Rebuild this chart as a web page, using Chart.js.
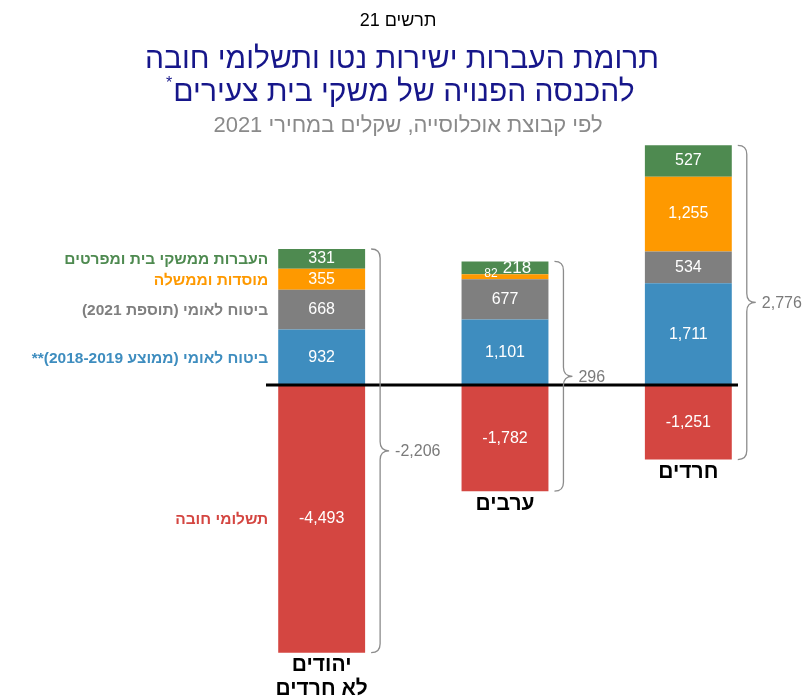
<!DOCTYPE html>
<html lang="he" dir="rtl">
  <head>
    <meta charset="UTF-8" />
    <title>תרשים 21</title>
    <script src="https://cdn.jsdelivr.net/npm/chart.js"></script>
    <style>
      body {
        margin: 0;
        background: #fff;
      }
      canvas {
        display: block;
      }
    </style>
  </head>
  <body>
    <canvas id="chart" width="803" height="696"></canvas>

    <script>
      // קבוצות אוכלוסייה
      const groups = [["יהודים", "לא חרדים"], ["ערבים"], ["חרדים"]];

      // ערכים בשקלים, מחירי 2021
      const compulsoryPayments = [-4493, -1782, -1251];
      const nationalInsuranceAvg = [932, 1101, 1711];
      const nationalInsurance2021 = [668, 677, 534];
      const institutionsGov = [355, 82, 1255];
      const householdTransfers = [331, 218, 527];
      const netTotals = [-2206, 296, 2776];

      const seriesNames = [
        "תשלומי חובה",
        "ביטוח לאומי (ממוצע 2018-2019)**",
        "ביטוח לאומי (תוספת 2021)",
        "מוסדות וממשלה",
        "העברות ממשקי בית ומפרטים",
      ];
      const seriesColors = ["#d44641", "#3e8dbf", "#7f7f7f", "#fe9900", "#4e8a50"];
      const seriesData = [
        compulsoryPayments,
        nationalInsuranceAvg,
        nationalInsurance2021,
        institutionsGov,
        householdTransfers,
      ];

      const FONT = '"Liberation Sans", Arial, "DejaVu Sans", sans-serif';
      const fmt = (v) => v.toLocaleString("en-US");

      function drawBrace(ctx, x0, top, bottom) {
        const mid = (top + bottom) / 2;
        const x1 = x0 + 9;
        const tip = x0 + 18;
        const r = 9;
        ctx.beginPath();
        ctx.moveTo(x0, top);
        ctx.quadraticCurveTo(x1, top, x1, top + r);
        ctx.lineTo(x1, mid - r);
        ctx.quadraticCurveTo(x1, mid, tip, mid);
        ctx.quadraticCurveTo(x1, mid, x1, mid + r);
        ctx.lineTo(x1, bottom - r);
        ctx.quadraticCurveTo(x1, bottom, x0, bottom);
        ctx.stroke();
        return { tip, mid };
      }

      // כותרות, תוויות, סוגריים וקו האפס
      const overlay = {
        id: "overlay",
        afterDatasetsDraw(chart) {
          const ctx = chart.ctx;
          const y = chart.scales.y;
          const metas = seriesData.map((_, i) => chart.getDatasetMeta(i));
          ctx.save();

          // קו האפס
          const y0 = y.getPixelForValue(0);
          ctx.strokeStyle = "#000";
          ctx.lineWidth = 3;
          ctx.beginPath();
          ctx.moveTo(266, y0);
          ctx.lineTo(738, y0);
          ctx.stroke();

          // ערכים על המקטעים
          ctx.fillStyle = "#fff";
          ctx.textBaseline = "middle";
          ctx.direction = "ltr";
          ctx.textAlign = "center";
          groups.forEach((_, j) => {
            let nudge = 0;
            metas.forEach((meta, i) => {
              const bar = meta.data[j];
              const h = Math.abs(bar.base - bar.y);
              const cy = (bar.y + bar.base) / 2;
              if (h < 8) {
                ctx.font = "12px " + FONT;
                ctx.fillText(fmt(seriesData[i][j]), bar.x - 14, cy - 3);
                nudge = 12;
              } else {
                ctx.font = (h < 16 ? "17px " : "16px ") + FONT;
                ctx.fillText(fmt(seriesData[i][j]), bar.x + nudge, cy);
                nudge = 0;
              }
            });
          });

          // סוגריים וסכום נטו
          ctx.strokeStyle = "#8c8c8c";
          ctx.lineWidth = 1.3;
          groups.forEach((names, j) => {
            const first = metas[0].data[j];
            const right = first.x + first.width / 2;
            let pos = 0;
            let neg = 0;
            seriesData.forEach((s) => {
              if (s[j] > 0) pos += s[j];
              else neg += s[j];
            });
            const top = y.getPixelForValue(pos);
            const bottom = y.getPixelForValue(neg);
            const b = drawBrace(ctx, right + 6, top, bottom);
            ctx.fillStyle = "#7a7a7a";
            ctx.font = "16px " + FONT;
            ctx.direction = "ltr";
            ctx.textAlign = "left";
            ctx.fillText(fmt(netTotals[j]), b.tip + 6, b.mid + 1);

            // שם הקבוצה מתחת לעמודה
            ctx.fillStyle = "#000";
            ctx.font = "bold 21px " + FONT;
            ctx.direction = "rtl";
            ctx.textAlign = "center";
            names.forEach((n, k) => {
              ctx.fillText(n, first.x, bottom + 13 + k * 24);
            });
          });

          // מקרא ליד העמודה הראשונה
          ctx.direction = "rtl";
          ctx.textAlign = "right";
          ctx.font = "bold 15.5px " + FONT;
          metas.forEach((meta, i) => {
            const bar = meta.data[0];
            ctx.fillStyle = seriesColors[i];
            ctx.fillText(seriesNames[i], bar.x - bar.width / 2 - 10, (bar.y + bar.base) / 2 + 1);
          });

          // כותרות
          const cx = 402;
          ctx.textAlign = "center";
          ctx.fillStyle = "#000";
          ctx.font = "18px " + FONT;
          ctx.fillText("תרשים 21", cx - 4, 21);
          ctx.fillStyle = "#16168a";
          ctx.font = "30px " + FONT;
          ctx.fillText("תרומת העברות ישירות נטו ותשלומי חובה", cx, 60);
          const line2 = "להכנסה הפנויה של משקי בית צעירים";
          ctx.fillText(line2, cx + 2, 93);
          const w2 = ctx.measureText(line2).width;
          ctx.font = "16px " + FONT;
          ctx.textAlign = "right";
          ctx.fillText("*", cx + 2 - w2 / 2 - 1, 84);
          ctx.textAlign = "center";
          ctx.fillStyle = "#8a8a8a";
          ctx.font = "22px " + FONT;
          ctx.fillText("לפי קבוצת אוכלוסייה, שקלים במחירי 2021", cx + 6, 126);
          ctx.restore();
        },
      };

      const ctx = document.getElementById("chart").getContext("2d");
      const chart = new Chart(ctx, {
        type: "bar",
        data: {
          labels: groups.map((g) => g.join(" ")),
          datasets: seriesData.map((d, i) => ({
            label: seriesNames[i],
            data: d,
            backgroundColor: seriesColors[i],
            borderWidth: 0,
            categoryPercentage: 1,
            barPercentage: 0.474,
          })),
        },
        options: {
          responsive: false,
          animation: false,
          layout: { padding: { top: 141, bottom: 37, left: 230, right: 23 } },
          plugins: {
            legend: { display: false },
            tooltip: { enabled: false },
          },
          scales: {
            x: { stacked: true, display: false },
            y: { stacked: true, display: false, min: -4600, max: 4100 },
          },
        },
        plugins: [overlay],
      });
    </script>
  </body>
</html>
